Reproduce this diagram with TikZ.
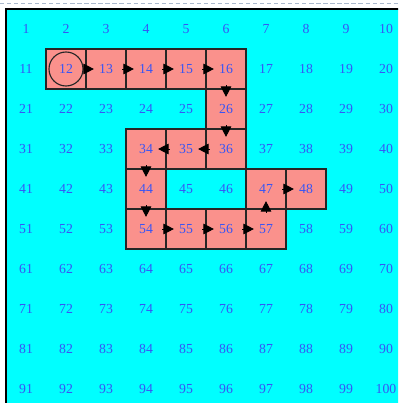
\documentclass[tikz,border=0pt]{standalone}
\usepackage{fontspec}
\setmainfont{Liberation Serif}
\usetikzlibrary{arrows.meta}
\definecolor{numblue}{RGB}{55,85,245}
\definecolor{bgcyan}{RGB}{0,255,255}
\definecolor{pathfill}{RGB}{250,145,140}
\definecolor{dashgray}{RGB}{170,185,205}
\tikzset{
  num/.style={circle, inner sep=0pt, minimum size=0.8cm, text=numblue,
    font=\fontsize{9.8}{11}\selectfont},
  pathcell/.style={fill=pathfill, draw=black!85, line width=0.9pt},
  arr/.style={-{Triangle[length=7.5pt,width=7.5pt]}, line width=0.6pt, black, shorten >=-3pt},
  startmark/.style={circle, draw=black!85, line width=0.8pt, minimum size=0.85cm, inner sep=0pt}
}
\begin{document}
\begin{tikzpicture}
\clip (-0.15,0.225) rectangle (9.8,-9.85);
\fill[white] (-0.15,0.225) rectangle (9.8,-9.85);
\fill[bgcyan] (0,0) rectangle (10,-10);
\draw[dashgray, line width=0.6pt, dash pattern=on 3pt off 2pt] (-0.15,0.15) -- (9.8,0.15);
\foreach \c/\r in {2/2,3/2,4/2,5/2,6/2,6/3,6/4,5/4,4/4,4/5,4/6,5/6,6/6,7/6,7/5,8/5}
  \draw[pathcell] (\c-1,-\r+1) rectangle (\c,-\r);
\draw[line width=1.5pt] (0,0) rectangle (10,-10);
\foreach \r in {1,...,10}
  \foreach \c in {1,...,10} {
    \pgfmathtruncatemacro\n{(\r-1)*10+\c}
    \node[num] (n\n) at (\c-0.5,-\r+0.5) {\n};
  }
\node[startmark] (start) at (n12) {};
\draw[arr] (start) -- (n13);
\draw[arr] (n13) -- (n14);
\draw[arr] (n14) -- (n15);
\draw[arr] (n15) -- (n16);
\draw[arr] (n16) -- (n26);
\draw[arr] (n26) -- (n36);
\draw[arr] (n36) -- (n35);
\draw[arr] (n35) -- (n34);
\draw[arr] (n34) -- (n44);
\draw[arr] (n44) -- (n54);
\draw[arr] (n54) -- (n55);
\draw[arr] (n55) -- (n56);
\draw[arr] (n56) -- (n57);
\draw[arr] (n57) -- (n47);
\draw[arr] (n47) -- (n48);
\end{tikzpicture}
\end{document}
